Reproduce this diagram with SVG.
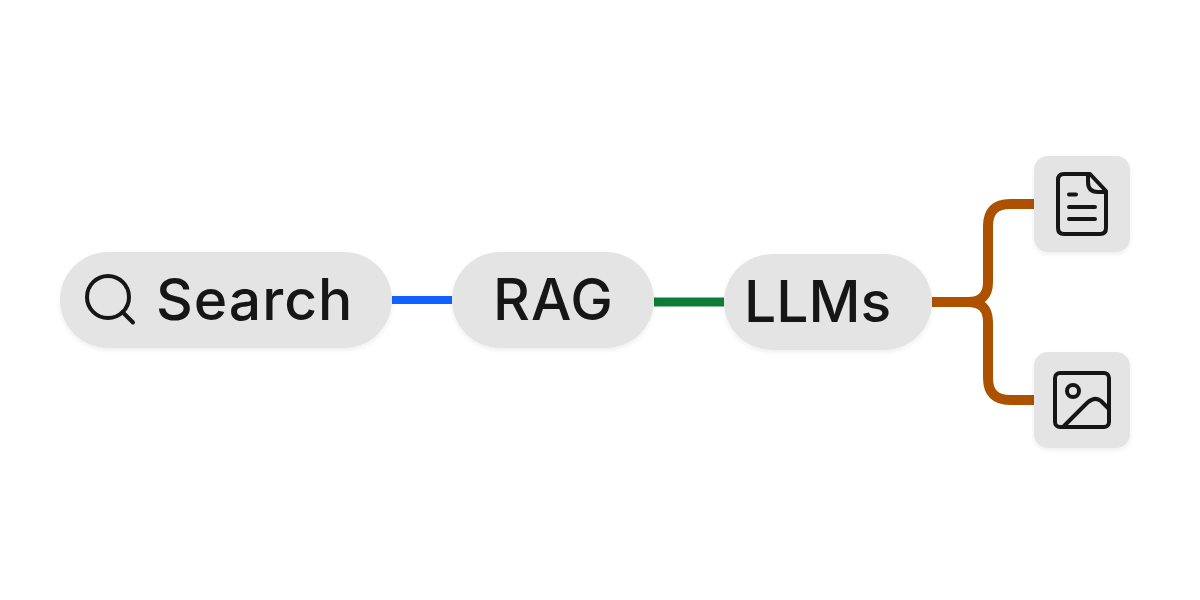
<svg xmlns="http://www.w3.org/2000/svg" width="1200" height="600" viewBox="0 0 1200 600">
<defs>
<filter id="sh" x="-10%" y="-20%" width="120%" height="150%"><feDropShadow dx="0" dy="2" stdDeviation="2" flood-color="#000" flood-opacity="0.07"/></filter>
</defs>
<style>
.box{fill:#e4e4e4;filter:url(#sh)}
.lbl{font-family:"Inter","Liberation Sans",sans-serif;font-size:57px;font-weight:450;fill:#161616}
.ic{fill:none;stroke:#161616;stroke-width:4;stroke-linecap:round;stroke-linejoin:round}
.c{fill:none}
</style>
<rect width="1200" height="600" fill="#fff"/>
<g id="connectors">
<path class="c" d="M392 300H452" stroke="#0f62fe" stroke-width="8"/>
<path class="c" d="M654 302H724" stroke="#0e7c36" stroke-width="9"/>
<path class="c" stroke="#ad5000" stroke-width="10" d="M932 302H968Q988 302 988 282V226Q988 204 1010 204H1034"/>
<path class="c" stroke="#ad5000" stroke-width="10" d="M932 302H968Q988 302 988 322V378Q988 400 1010 400H1034"/>
</g>
<g id="search">
<rect class="box" x="60" y="252" width="332" height="96" rx="48"/>
<circle class="ic" cx="108" cy="297" r="21"/>
<path class="ic" d="M122.500 312L133 322.500"/>
<text class="lbl" x="156" y="320" letter-spacing="1">Search</text>
</g>
<g id="rag">
<rect class="box" x="452" y="252" width="202" height="96" rx="48"/>
<text class="lbl" x="493" y="320" letter-spacing="1">RAG</text>
</g>
<g id="llms">
<rect class="box" x="724" y="254" width="208" height="96" rx="48"/>
<text class="lbl" x="744" y="322">LLMs</text>
</g>
<g id="document">
<rect class="box" x="1034" y="156" width="96" height="96" rx="14"/>
<path class="ic" d="M1064 174H1090L1106 191V228Q1106 234 1100 234H1064Q1058 234 1058 228V180Q1058 174 1064 174Z"/>
<path class="ic" d="M1088 174V182Q1088 192 1098 192H1106"/>
<path class="ic" d="M1069 194.500H1076M1069 207H1095M1069 219H1095"/>
</g>
<g id="image">
<rect class="box" x="1034" y="352" width="96" height="96" rx="14"/>
<rect class="ic" x="1055" y="373" width="54" height="54" rx="5"/>
<circle class="ic" cx="1073" cy="391" r="6"/>
<path class="ic" d="M1064 426L1087 403Q1095 396 1101 401L1108 408"/>
</g>
</svg>
